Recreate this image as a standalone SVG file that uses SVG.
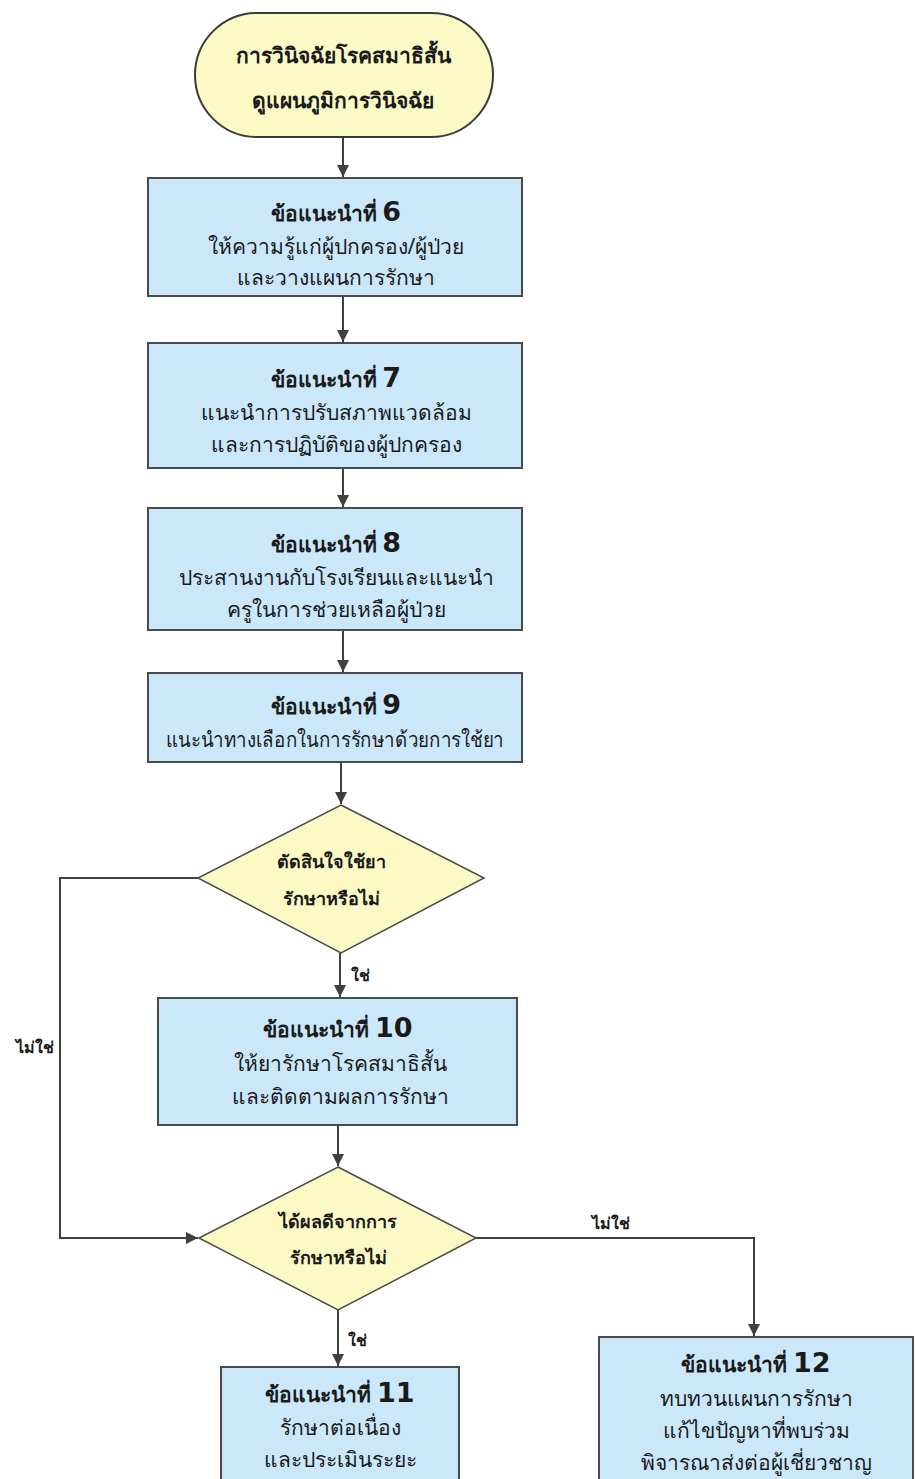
<svg xmlns="http://www.w3.org/2000/svg" width="916" height="1479" viewBox="0 0 916 1479">
<defs>
<style>
.term{fill:#fcfbc6;stroke:#3a3a3a;stroke-width:2}
.box{fill:#cbe8fb;stroke:#4a4a4a;stroke-width:2}
.dia{fill:#fcf9c4;stroke:#4a4a4a;stroke-width:1.5}
.conn{fill:none;stroke:#404040;stroke-width:2}
text{font-family:"Noto Sans","DejaVu Sans",sans-serif;fill:#1a1a1a;text-anchor:middle}
.tt{font-size:21px;font-weight:bold}
.hd{font-size:21px;font-weight:bold}
.num{font-size:27px;font-weight:bold;font-family:"DejaVu Sans","Noto Sans",sans-serif}
.bd{font-size:21px}
.dt{font-size:18px;font-weight:600}
.lb{font-size:16px;font-weight:bold}
</style>
<marker id="ah" viewBox="0 0 12 12" refX="12" refY="6" markerWidth="12" markerHeight="12" markerUnits="userSpaceOnUse" orient="auto">
<path d="M0,0 L12,6 L0,12 z" fill="#404040"/>
</marker>
</defs>
<rect width="916" height="1479" fill="#ffffff"/>

<g id="connectors">
<path class="conn" d="M343,138 V177" marker-end="url(#ah)"/>
<path class="conn" d="M343,296 V342" marker-end="url(#ah)"/>
<path class="conn" d="M343,468 V507" marker-end="url(#ah)"/>
<path class="conn" d="M343,630 V672" marker-end="url(#ah)"/>
<path class="conn" d="M341,762 V804" marker-end="url(#ah)"/>
<path class="conn" d="M198,878 H60 V1238 H198" marker-end="url(#ah)"/>
<path class="conn" d="M340,953 V997" marker-end="url(#ah)"/>
<path class="conn" d="M338,1125 V1166" marker-end="url(#ah)"/>
<path class="conn" d="M476,1238 H754 V1336" marker-end="url(#ah)"/>
<path class="conn" d="M338,1310 V1366" marker-end="url(#ah)"/>
<text class="lb" x="360" y="981">ใช่</text>
<text class="lb" x="35" y="1053">ไม่ใช่</text>
<text class="lb" x="611" y="1229">ไม่ใช่</text>
<text class="lb" x="357" y="1346">ใช่</text>
</g>

<g id="start">
<rect class="term" x="195" y="13" width="298" height="124" rx="62" ry="62"/>
<text class="tt" x="343" y="63">การวินิจฉัยโรคสมาธิสั้น</text>
<text class="tt" x="343" y="108">ดูแผนภูมิการวินิจฉัย</text>
</g>

<g id="rec6">
<rect class="box" x="148" y="178" width="374" height="118"/>
<text x="336" y="221"><tspan class="hd">ข้อแนะนำที่ </tspan><tspan class="num">6</tspan></text>
<text class="bd" x="336" y="254">ให้ความรู้แก่ผู้ปกครอง/ผู้ป่วย</text>
<text class="bd" x="336" y="285">และวางแผนการรักษา</text>
</g>

<g id="rec7">
<rect class="box" x="148" y="343" width="374" height="125"/>
<text x="336" y="387"><tspan class="hd">ข้อแนะนำที่ </tspan><tspan class="num">7</tspan></text>
<text class="bd" x="336" y="420">แนะนำการปรับสภาพแวดล้อม</text>
<text class="bd" x="336" y="452">และการปฏิบัติของผู้ปกครอง</text>
</g>

<g id="rec8">
<rect class="box" x="148" y="508" width="374" height="122"/>
<text x="336" y="552"><tspan class="hd">ข้อแนะนำที่ </tspan><tspan class="num">8</tspan></text>
<text class="bd" x="336" y="585">ประสานงานกับโรงเรียนและแนะนำ</text>
<text class="bd" x="336" y="617">ครูในการช่วยเหลือผู้ป่วย</text>
</g>

<g id="rec9">
<rect class="box" x="148" y="673" width="374" height="89"/>
<text x="336" y="714"><tspan class="hd">ข้อแนะนำที่ </tspan><tspan class="num">9</tspan></text>
<text class="bd" x="335" y="747" textLength="338" lengthAdjust="spacingAndGlyphs">แนะนำทางเลือกในการรักษาด้วยการใช้ยา</text>
</g>

<g id="decide1">
<polygon class="dia" points="341,805 484,878 341,953 198,878"/>
<text class="dt" x="331" y="868">ตัดสินใจใช้ยา</text>
<text class="dt" x="331" y="905">รักษาหรือไม่</text>
</g>

<g id="rec10">
<rect class="box" x="158" y="998" width="359" height="127"/>
<text x="338" y="1037"><tspan class="hd">ข้อแนะนำที่ </tspan><tspan class="num">10</tspan></text>
<text class="bd" x="340" y="1071">ให้ยารักษาโรคสมาธิสั้น</text>
<text class="bd" x="340" y="1104">และติดตามผลการรักษา</text>
</g>

<g id="decide2">
<polygon class="dia" points="338,1167 476,1238 338,1310 199,1238"/>
<text class="dt" x="338" y="1228">ได้ผลดีจากการ</text>
<text class="dt" x="338" y="1264">รักษาหรือไม่</text>
</g>

<g id="rec11">
<rect class="box" x="221" y="1367" width="238" height="130"/>
<text x="340" y="1402"><tspan class="hd">ข้อแนะนำที่ </tspan><tspan class="num">11</tspan></text>
<text class="bd" x="340" y="1435">รักษาต่อเนื่อง</text>
<text class="bd" x="340" y="1467">และประเมินระยะ</text>
</g>

<g id="rec12">
<rect class="box" x="599" y="1337" width="314" height="160"/>
<text x="756" y="1372"><tspan class="hd">ข้อแนะนำที่ </tspan><tspan class="num">12</tspan></text>
<text class="bd" x="756" y="1406">ทบทวนแผนการรักษา</text>
<text class="bd" x="756" y="1438">แก้ไขปัญหาที่พบร่วม</text>
<text class="bd" x="756" y="1470">พิจารณาส่งต่อผู้เชี่ยวชาญ</text>
</g>
</svg>
